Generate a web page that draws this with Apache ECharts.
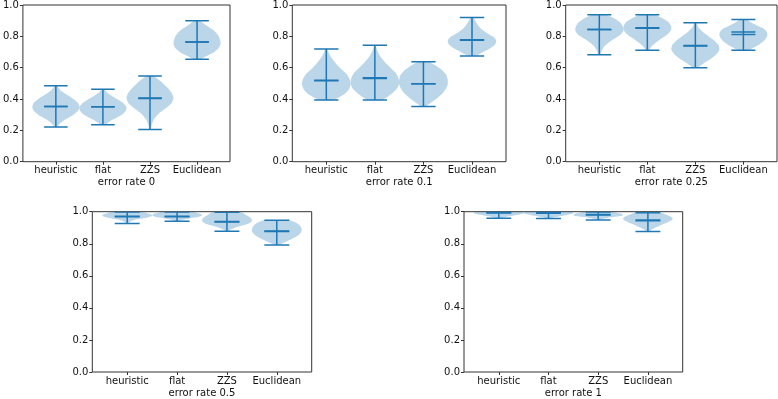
<!DOCTYPE html>
<html>
<head>
<meta charset="utf-8">
<script src="https://cdn.jsdelivr.net/npm/echarts@6/dist/echarts.min.js"></script>
<style>html,body{margin:0;padding:0;background:#fff}#c{width:778px;height:399px}</style>
</head>
<body>
<div id="c"></div>
<script>
// ---- data ----
const categories = ['heuristic', 'flat', 'ZZS', 'Euclidean'];
const panelTitles = ['error rate 0', 'error rate 0.1', 'error rate 0.25', 'error rate 0.5', 'error rate 1'];
const yTickValues = [0, 0.2, 0.4, 0.6, 0.8, 1.0];

// per panel, per category
const mins = [
  [0.221, 0.236, 0.206, 0.653],
  [0.394, 0.394, 0.352, 0.674],
  [0.682, 0.711, 0.600, 0.711],
  [0.927, 0.940, 0.878, 0.792],
  [0.959, 0.958, 0.948, 0.876]
];
const maxs = [
  [0.484, 0.463, 0.547, 0.899],
  [0.720, 0.743, 0.638, 0.920],
  [0.937, 0.937, 0.886, 0.907],
  [0.998, 0.998, 0.996, 0.947],
  [0.999, 0.999, 0.998, 0.993]
];
const medians = [
  [0.352, 0.350, 0.404, 0.764],
  [0.516, 0.531, 0.497, 0.775],
  [0.844, 0.851, 0.739, 0.812],
  [0.968, 0.968, 0.935, 0.876],
  [0.992, 0.991, 0.979, 0.944]
];
const means = [
  [0.352, 0.350, 0.407, 0.764],
  [0.520, 0.535, 0.497, 0.779],
  [0.844, 0.855, 0.742, 0.827],
  [0.972, 0.972, 0.939, 0.880],
  [0.995, 0.994, 0.982, 0.948]
];
// relative violin widths (max 1), sampled evenly from min (first) to max (last)
const profiles = [
  [
    [0.05, 0.20, 0.45, 0.75, 0.95, 1.00, 0.92, 0.70, 0.42, 0.18, 0.05],
    [0.08, 0.30, 0.60, 0.85, 0.98, 1.00, 0.88, 0.65, 0.40, 0.18, 0.05],
    [0.03, 0.08, 0.18, 0.38, 0.68, 0.93, 1.00, 0.90, 0.70, 0.45, 0.15],
    [0.12, 0.45, 0.75, 0.93, 1.00, 0.98, 0.92, 0.80, 0.60, 0.35, 0.10]
  ],
  [
    [0.30, 0.70, 0.92, 1.00, 0.97, 0.85, 0.62, 0.42, 0.25, 0.12, 0.04],
    [0.30, 0.65, 0.90, 1.00, 0.97, 0.85, 0.62, 0.40, 0.22, 0.10, 0.03],
    [0.08, 0.35, 0.60, 0.80, 0.93, 1.00, 1.00, 0.95, 0.80, 0.55, 0.20],
    [0.12, 0.45, 0.75, 0.95, 1.00, 0.88, 0.60, 0.38, 0.25, 0.15, 0.05]
  ],
  [
    [0.04, 0.10, 0.20, 0.38, 0.62, 0.88, 1.00, 0.98, 0.88, 0.65, 0.28],
    [0.06, 0.16, 0.32, 0.52, 0.75, 0.92, 1.00, 0.98, 0.88, 0.65, 0.28],
    [0.08, 0.35, 0.65, 0.88, 1.00, 0.97, 0.80, 0.55, 0.30, 0.12, 0.04],
    [0.20, 0.45, 0.68, 0.85, 0.95, 1.00, 0.97, 0.85, 0.60, 0.35, 0.12]
  ],
  [
    [0.03, 0.08, 0.16, 0.30, 0.52, 0.78, 0.95, 1.00, 0.95, 0.80, 0.60],
    [0.05, 0.14, 0.28, 0.48, 0.70, 0.88, 0.98, 1.00, 0.95, 0.82, 0.62],
    [0.05, 0.16, 0.35, 0.60, 0.85, 0.98, 1.00, 0.95, 0.85, 0.72, 0.58],
    [0.08, 0.30, 0.52, 0.72, 0.88, 0.97, 1.00, 0.98, 0.92, 0.78, 0.50]
  ],
  [
    [0.06, 0.16, 0.28, 0.42, 0.56, 0.70, 0.83, 0.94, 1.00, 0.98, 0.92],
    [0.06, 0.16, 0.28, 0.42, 0.56, 0.70, 0.83, 0.94, 1.00, 0.98, 0.92],
    [0.04, 0.12, 0.25, 0.42, 0.65, 0.88, 1.00, 0.98, 0.90, 0.75, 0.58],
    [0.04, 0.14, 0.28, 0.45, 0.62, 0.80, 0.95, 1.00, 0.92, 0.75, 0.50]
  ]
];

// ---- layout ----
const grids = [
  {left: 18, top: 3.3, width: 212, height: 158.4},
  {left: 292.3, top: 3.3, width: 213.7, height: 158.4},
  {left: 565.7, top: 3.3, width: 211.3, height: 158.4},
  {left: 92.3, top: 211.7, width: 219.4, height: 163.3},
  {left: 464, top: 211.7, width: 218.7, height: 163.3}
];

const C0 = '#1f77b4';
const FONT = 'DejaVu Sans';
const positions = categories.map((c, i) => i + 1);

const option = {
  animation: false,
  backgroundColor: '#fff',
  grid: grids.map(g => Object.assign({show: true, borderColor: '#333', borderWidth: 1, backgroundColor: 'transparent', containLabel: false}, g)),
  xAxis: grids.map((g, p) => ({
    type: 'value', gridIndex: p, min: 0.3, max: 4.7,
    name: panelTitles[p], nameLocation: 'middle', nameGap: 16,
    nameTextStyle: {color: '#111', fontFamily: FONT, fontSize: 10},
    axisLine: {show: false},
    splitLine: {show: false},
    axisTick: {show: true, inside: false, length: 3, lineStyle: {color: '#333'}, customValues: positions},
    axisLabel: {color: '#111', fontFamily: FONT, fontSize: 10, margin: 4, customValues: positions,
      formatter: v => categories[Math.round(v) - 1] || ''}
  })),
  yAxis: grids.map((g, p) => ({
    type: 'value', gridIndex: p, min: 0, max: 1, interval: 0.2,
    axisLine: {show: false},
    splitLine: {show: false},
    axisTick: {show: true, inside: false, length: 3, lineStyle: {color: '#333'}, customValues: yTickValues},
    axisLabel: {color: '#111', fontFamily: FONT, fontSize: 10, margin: 4, customValues: yTickValues,
      formatter: v => v.toFixed(1)}
  })),
  series: grids.map((g, p) => ({
    type: 'custom', xAxisIndex: p, yAxisIndex: p, clip: true,
    data: categories.map((c, i) => [positions[i], i]),
    renderItem: function (params, api) {
      const pos = api.value(0);
      const i = api.value(1);
      const lo = mins[p][i], hi = maxs[p][i], w = profiles[p][i];
      const n = w.length;
      const pts = [];
      for (let k = 0; k < n; k++) {
        const y = lo + k * (hi - lo) / (n - 1);
        pts.push(api.coord([pos - 0.5 * w[k], y]));
      }
      for (let k = n - 1; k >= 0; k--) {
        const y = lo + k * (hi - lo) / (n - 1);
        pts.push(api.coord([pos + 0.5 * w[k], y]));
      }
      const line = (x1, y1, x2, y2) => {
        const a = api.coord([x1, y1]), b = api.coord([x2, y2]);
        return {type: 'line', shape: {x1: a[0], y1: a[1], x2: b[0], y2: b[1]},
          style: {stroke: C0, lineWidth: 1.5}};
      };
      return {
        type: 'group',
        children: [
          {type: 'polygon', shape: {points: pts, smooth: 0.2},
            style: {fill: 'rgba(31,119,180,0.3)', stroke: null}},
          line(pos, lo, pos, hi),
          line(pos - 0.25, lo, pos + 0.25, lo),
          line(pos - 0.25, hi, pos + 0.25, hi),
          line(pos - 0.25, medians[p][i], pos + 0.25, medians[p][i]),
          line(pos - 0.25, means[p][i], pos + 0.25, means[p][i])
        ]
      };
    }
  }))
};

const chart = echarts.init(document.getElementById('c'), null, {renderer: 'canvas'});
chart.setOption(option);
</script>
</body>
</html>
